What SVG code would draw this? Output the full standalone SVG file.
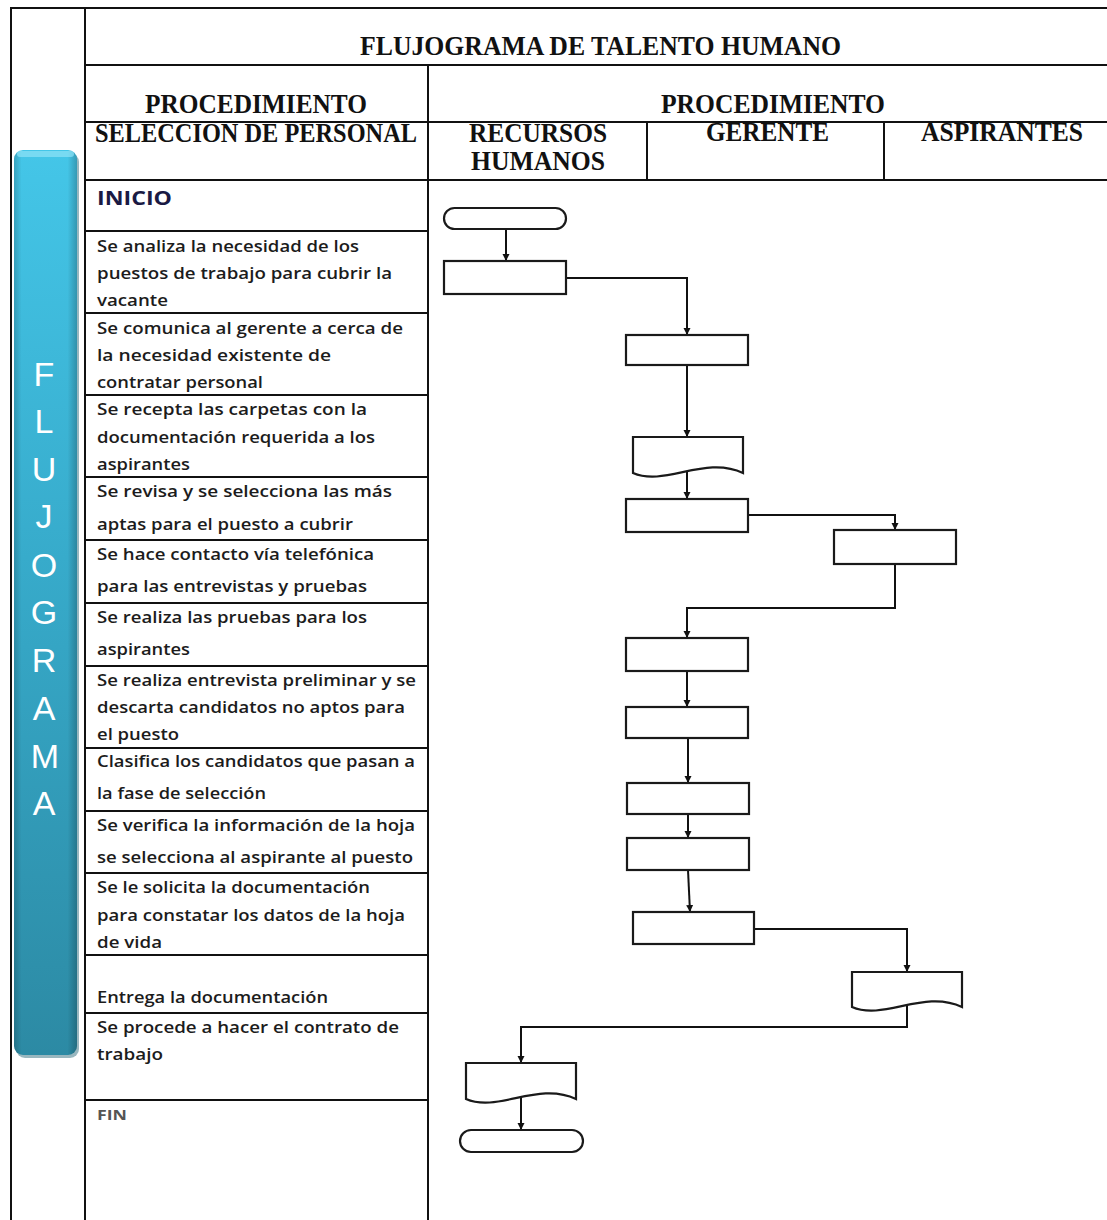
<svg xmlns="http://www.w3.org/2000/svg" width="1107" height="1220" viewBox="0 0 1107 1220">
  <defs>
    <linearGradient id="barFill" x1="0" y1="0" x2="0" y2="1">
      <stop offset="0" stop-color="#44c6e8"/>
      <stop offset="0.45" stop-color="#37abcb"/>
      <stop offset="1" stop-color="#2c8aa4"/>
    </linearGradient>
    <linearGradient id="barSide" x1="0" y1="0" x2="1" y2="0">
      <stop offset="0" stop-color="#000" stop-opacity="0.18"/>
      <stop offset="0.12" stop-color="#000" stop-opacity="0"/>
      <stop offset="0.85" stop-color="#000" stop-opacity="0"/>
      <stop offset="1" stop-color="#000" stop-opacity="0.22"/>
    </linearGradient>
    <marker id="arrow" markerUnits="userSpaceOnUse" markerWidth="8" markerHeight="8" refX="7" refY="4" orient="auto">
      <path d="M0,0.5 L7,4 L0,7.5 Z" fill="#111"/>
    </marker>
    <style>
      .grid { stroke: #111; stroke-width: 2; fill: none; }
      .hdr { font-family: "Liberation Serif", "Times New Roman", serif; font-weight: bold; fill: #111; }
      .t { font-family: "Open Sans", "Liberation Sans", sans-serif; font-size: 16.5px; font-weight: 600; fill: #1c1c1c; }
      .shape { fill: #fff; stroke: #1a1a1a; stroke-width: 2.2; }
      .conn { fill: none; stroke: #111; stroke-width: 2; marker-end: url(#arrow); }
      .bar-letter { font-family: "Liberation Sans", Arial, sans-serif; font-size: 34px; fill: #fff; text-anchor: middle; }
    </style>
  </defs>

  <rect width="1107" height="1220" fill="#fff"/>

  <!-- side banner -->
  <g id="banner">
    <rect x="16" y="153" width="63" height="905" rx="9" fill="#1d5f70" opacity="0.45"/>
    <rect x="14" y="150" width="63" height="905" rx="9" fill="url(#barFill)"/>
    <rect x="14" y="150" width="63" height="905" rx="9" fill="url(#barSide)"/>
    <rect x="17" y="151" width="57" height="6" rx="3" fill="#8fe3f7" opacity="0.7"/>
    <text class="bar-letter" x="44" y="386">F</text>
    <text class="bar-letter" x="44" y="433">L</text>
    <text class="bar-letter" x="44" y="481">U</text>
    <text class="bar-letter" x="44" y="528">J</text>
    <text class="bar-letter" x="44" y="577">O</text>
    <text class="bar-letter" x="44" y="624">G</text>
    <text class="bar-letter" x="44" y="672">R</text>
    <text class="bar-letter" x="44" y="720">A</text>
    <text class="bar-letter" x="45" y="768">M</text>
    <text class="bar-letter" x="44" y="815">A</text>
  </g>

  <!-- table frame -->
  <g id="table">
    <path class="grid" d="M10,8 H1107 M11,8 V1220 M85,8 V1220 M85,65 H1107 M428,65 V1220 M85,122 H1107 M647,122 V180 M884,122 V180 M85,180 H1107"/>
    <path class="grid" d="M85,231 H428 M85,313 H428 M85,395 H428 M85,477 H428 M85,540 H428 M85,603 H428 M85,666 H428 M85,748 H428 M85,811 H428 M85,873 H428 M85,955 H428 M85,1013 H428 M85,1100 H428"/>
  </g>

  <!-- headers -->
  <g id="headers" xml:space="preserve">
    <text class="hdr" x="360" y="55" font-size="27" textLength="481" lengthAdjust="spacingAndGlyphs">FLUJOGRAMA DE  TALENTO HUMANO</text>
    <text class="hdr" x="145" y="113" font-size="28" textLength="222" lengthAdjust="spacingAndGlyphs">PROCEDIMIENTO</text>
    <text class="hdr" x="661" y="113" font-size="28" textLength="224" lengthAdjust="spacingAndGlyphs">PROCEDIMIENTO</text>
    <text class="hdr" x="95" y="142" font-size="27" textLength="322" lengthAdjust="spacingAndGlyphs">SELECCION DE PERSONAL</text>
    <text class="hdr" x="469" y="142" font-size="27" textLength="138" lengthAdjust="spacingAndGlyphs">RECURSOS</text>
    <text class="hdr" x="471" y="170" font-size="27" textLength="134" lengthAdjust="spacingAndGlyphs">HUMANOS</text>
    <text class="hdr" x="706" y="141" font-size="27" textLength="123" lengthAdjust="spacingAndGlyphs">GERENTE</text>
    <text class="hdr" x="921" y="141" font-size="27" textLength="162" lengthAdjust="spacingAndGlyphs">ASPIRANTES</text>
  </g>

  <!-- procedure steps -->
  <g id="steps" xml:space="preserve">
    <text x="97" y="205" font-family="Open Sans, Liberation Sans, sans-serif" font-size="20" font-weight="bold" fill="#1a1a44" textLength="75" lengthAdjust="spacingAndGlyphs">INICIO</text>
    <text class="t" x="97" y="252" textLength="262" lengthAdjust="spacingAndGlyphs">Se analiza la necesidad de los</text>
    <text class="t" x="97" y="279" textLength="295" lengthAdjust="spacingAndGlyphs">puestos  de trabajo para cubrir la</text>
    <text class="t" x="97" y="306" textLength="71" lengthAdjust="spacingAndGlyphs">vacante</text>
    <text class="t" x="97" y="334" textLength="306" lengthAdjust="spacingAndGlyphs">Se comunica  al gerente a cerca de</text>
    <text class="t" x="97" y="361" textLength="234" lengthAdjust="spacingAndGlyphs">la necesidad  existente  de</text>
    <text class="t" x="97" y="388" textLength="166" lengthAdjust="spacingAndGlyphs">contratar personal</text>
    <text class="t" x="97" y="415" textLength="270" lengthAdjust="spacingAndGlyphs">Se recepta las carpetas  con la</text>
    <text class="t" x="97" y="443" textLength="278" lengthAdjust="spacingAndGlyphs">documentación  requerida a los</text>
    <text class="t" x="97" y="470" textLength="93" lengthAdjust="spacingAndGlyphs">aspirantes</text>
    <text class="t" x="97" y="497" textLength="295" lengthAdjust="spacingAndGlyphs">Se revisa y se selecciona las  más</text>
    <text class="t" x="97" y="530" textLength="256" lengthAdjust="spacingAndGlyphs">aptas para el puesto a cubrir</text>
    <text class="t" x="97" y="560" textLength="277" lengthAdjust="spacingAndGlyphs">Se hace contacto vía telefónica</text>
    <text class="t" x="97" y="592" textLength="270" lengthAdjust="spacingAndGlyphs">para las entrevistas y pruebas</text>
    <text class="t" x="97" y="623" textLength="270" lengthAdjust="spacingAndGlyphs">Se realiza las pruebas para los</text>
    <text class="t" x="97" y="655" textLength="93" lengthAdjust="spacingAndGlyphs">aspirantes</text>
    <text class="t" x="97" y="686" textLength="319" lengthAdjust="spacingAndGlyphs">Se realiza entrevista preliminar y se</text>
    <text class="t" x="97" y="713" textLength="308" lengthAdjust="spacingAndGlyphs">descarta candidatos  no aptos para</text>
    <text class="t" x="97" y="740" textLength="82" lengthAdjust="spacingAndGlyphs">el puesto</text>
    <text class="t" x="97" y="767" textLength="318" lengthAdjust="spacingAndGlyphs">Clasifica  los candidatos que  pasan a</text>
    <text class="t" x="97" y="799" textLength="169" lengthAdjust="spacingAndGlyphs">la fase de selección</text>
    <text class="t" x="97" y="831" textLength="318" lengthAdjust="spacingAndGlyphs">Se verifica la información  de la hoja</text>
    <text class="t" x="97" y="863" textLength="316" lengthAdjust="spacingAndGlyphs">se selecciona  al aspirante al puesto</text>
    <text class="t" x="97" y="893" textLength="273" lengthAdjust="spacingAndGlyphs">Se le solicita la documentación</text>
    <text class="t" x="97" y="921" textLength="308" lengthAdjust="spacingAndGlyphs">para constatar los datos de la hoja</text>
    <text class="t" x="97" y="948" textLength="65" lengthAdjust="spacingAndGlyphs">de vida</text>
    <text class="t" x="97" y="1003" textLength="231" lengthAdjust="spacingAndGlyphs">Entrega la documentación</text>
    <text class="t" x="97" y="1033" textLength="302" lengthAdjust="spacingAndGlyphs">Se procede  a hacer el contrato de</text>
    <text class="t" x="97" y="1060" textLength="66" lengthAdjust="spacingAndGlyphs">trabajo</text>
    <text x="97" y="1120" font-family="Open Sans, Liberation Sans, sans-serif" font-size="15" font-weight="bold" fill="#555" textLength="30" lengthAdjust="spacingAndGlyphs">FIN</text>
  </g>

  <!-- flow connectors -->
  <g id="connectors">
    <path class="conn" d="M506,229 V261"/>
    <path class="conn" d="M566,278 H687 V335"/>
    <path class="conn" d="M687,365 V437"/>
    <path class="conn" d="M687,471 V499"/>
    <path class="conn" d="M748,515 H895 V530"/>
    <path class="conn" d="M895,564 V608 H687 V638"/>
    <path class="conn" d="M687,671 V707"/>
    <path class="conn" d="M688,738 V783"/>
    <path class="conn" d="M688,814 V838"/>
    <path class="conn" d="M688,870 L690,912"/>
    <path class="conn" d="M754,929 H907 V972"/>
    <path class="conn" d="M907,1005 V1027 H521 V1063"/>
    <path class="conn" d="M521,1097 V1130"/>
  </g>

  <!-- flow shapes -->
  <g id="start"><rect class="shape" x="444" y="208" width="122" height="21" rx="10.5"/></g>
  <g id="analizar"><rect class="shape" x="444" y="261" width="122" height="33"/></g>
  <g id="comunicar"><rect class="shape" x="626" y="335" width="122" height="30"/></g>
  <g id="carpetas"><path class="shape" d="M633,437 H743 V473 C705,455 665,487 633,473 Z"/></g>
  <g id="revisar"><rect class="shape" x="626" y="499" width="122" height="33"/></g>
  <g id="contacto"><rect class="shape" x="834" y="530" width="122" height="34"/></g>
  <g id="pruebas"><rect class="shape" x="626" y="638" width="122" height="33"/></g>
  <g id="entrevista"><rect class="shape" x="626" y="707" width="122" height="31"/></g>
  <g id="clasificar"><rect class="shape" x="627" y="783" width="122" height="31"/></g>
  <g id="verificar"><rect class="shape" x="627" y="838" width="122" height="32"/></g>
  <g id="solicitar"><rect class="shape" x="633" y="912" width="121" height="32"/></g>
  <g id="entrega"><path class="shape" d="M852,972 H962 V1007 C924,989 884,1021 852,1007 Z"/></g>
  <g id="contrato"><path class="shape" d="M466,1063 H576 V1099 C538,1081 498,1113 466,1099 Z"/></g>
  <g id="end"><rect class="shape" x="460" y="1130" width="123" height="22" rx="11"/></g>
</svg>
